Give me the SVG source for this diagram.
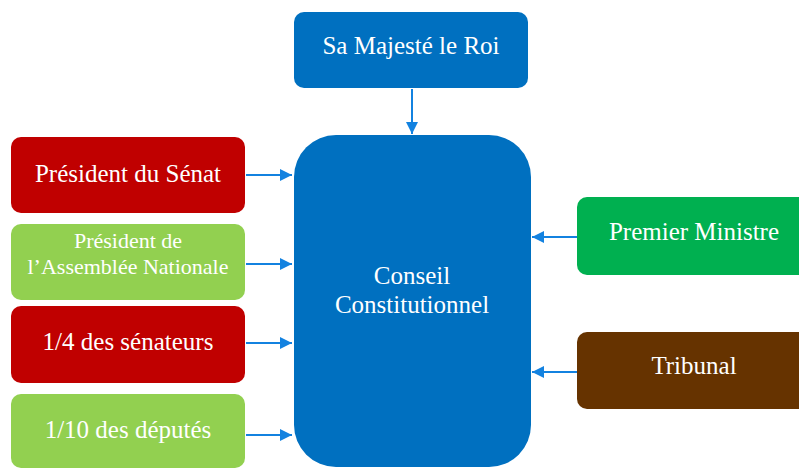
<svg xmlns="http://www.w3.org/2000/svg" width="799" height="468" viewBox="0 0 799 468">
<style>
text{font-family:'Liberation Serif','Times New Roman',serif;fill:#fff;text-anchor:middle}
.t{font-size:25px}
.s{font-size:22px}
.c{stroke:#1382E0;stroke-width:2;fill:none}
</style>
<defs>
<marker id="a" viewBox="0 0 12 12" refX="12" refY="6" markerWidth="12" markerHeight="12" orient="auto" markerUnits="userSpaceOnUse">
<path d="M0,0 L12,6 L0,12 z" fill="#1382E0"/>
</marker>
</defs>
<rect width="799" height="468" fill="#fff"/>
<g id="roi"><rect x="294" y="12" width="234" height="76" rx="10" fill="#0070C0"/><text class="t" x="411" y="54">Sa Majesté le Roi</text></g>
<g id="conseil"><rect x="294" y="135" width="237" height="332" rx="42" fill="#0070C0"/><text class="t" x="412" y="284">Conseil</text><text class="t" x="412" y="313">Constitutionnel</text></g>
<g id="senat"><rect x="11" y="137" width="234" height="76" rx="10" fill="#C00000"/><text class="t" x="128" y="182">Président du Sénat</text></g>
<g id="assemblee"><rect x="11" y="224" width="234" height="76" rx="10" fill="#92D050"/><text class="s" x="128" y="248">Président de</text><text class="s" x="128" y="274">l’Assemblée Nationale</text></g>
<g id="senateurs"><rect x="11" y="306" width="234" height="77" rx="10" fill="#C00000"/><text class="t" x="128" y="350">1/4 des sénateurs</text></g>
<g id="deputes"><rect x="11" y="394" width="234" height="74" rx="10" fill="#92D050"/><text class="t" x="128" y="438">1/10 des députés</text></g>
<g id="premier"><rect x="577" y="197" width="240" height="78" rx="10" fill="#00B050"/><text class="t" x="694" y="240">Premier Ministre</text></g>
<g id="tribunal"><rect x="577" y="332" width="240" height="77" rx="10" fill="#663300"/><text class="t" x="694" y="374">Tribunal</text></g>
<g id="connectors">
<line class="c" x1="412" y1="89" x2="412" y2="134" marker-end="url(#a)"/>
<line class="c" x1="246" y1="175" x2="292" y2="175" marker-end="url(#a)"/>
<line class="c" x1="246" y1="264" x2="292" y2="264" marker-end="url(#a)"/>
<line class="c" x1="246" y1="343" x2="292" y2="343" marker-end="url(#a)"/>
<line class="c" x1="246" y1="435" x2="292" y2="435" marker-end="url(#a)"/>
<line class="c" x1="577" y1="237" x2="532" y2="237" marker-end="url(#a)"/>
<line class="c" x1="577" y1="372" x2="532" y2="372" marker-end="url(#a)"/>
</g>
</svg>
